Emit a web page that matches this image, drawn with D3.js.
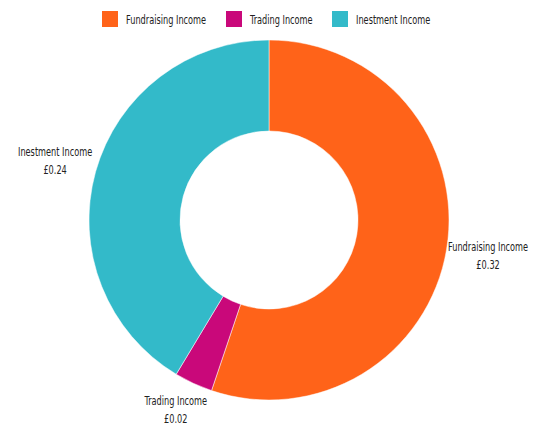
<!DOCTYPE html>
<html><head><meta charset="utf-8">
<script src="https://cdn.jsdelivr.net/npm/d3@7"></script>
<style>body{margin:0;background:#fff}</style>
</head><body>
<svg id="c" width="538" height="427"></svg>
<script>
const categories = ["Fundraising Income", "Trading Income", "Inestment Income"];
const values = [0.32, 0.02, 0.24];
const colors = ["#FF6319", "#C9087A", "#33BAC9"];

const W = 538, H = 427;
const svg = d3.select("#c");
const font = "'DejaVu Sans Condensed','DejaVu Sans',sans-serif";
const fontSize = "13px";
const squeeze = 0.7;
const cx = 269, cy = 220, R = 180, r = 89;
const g = svg.append("g").attr("transform", `translate(${cx},${cy})`);
const pie = d3.pie().sort(null).value(d => d.v);
const data = pie(categories.map((c, i) => ({c, v: values[i], col: colors[i]})));
const arc = d3.arc().innerRadius(r).outerRadius(R);
g.selectAll("path").data(data).join("path")
  .attr("d", arc).attr("fill", d => d.data.col)
  .attr("stroke", "#fff").attr("stroke-width", 0.5);

const labelArc = d3.arc().innerRadius(222).outerRadius(222);
const lab = g.selectAll("g.lab").data(data).join("g").attr("class", "lab")
  .attr("transform", d => {
    let [x, y] = labelArc.centroid(d);
    y = Math.min(y, H - cy - 17);   // keep both lines inside the canvas
    return `translate(${x},${y}) scale(${squeeze},1)`;
  });
lab.append("text").attr("text-anchor", "middle").attr("y", -5)
  .style("font-family", font).style("font-size", fontSize).attr("fill", "#222")
  .text(d => d.data.c);
lab.append("text").attr("text-anchor", "middle").attr("y", 13)
  .style("font-family", font).style("font-size", fontSize).attr("fill", "#222")
  .text(d => "£" + d.data.v.toFixed(2));

// legend
const legX = [102, 226, 332];
const leg = svg.selectAll("g.leg").data(categories).join("g").attr("class", "leg")
  .attr("transform", (d, i) => `translate(${legX[i]},11)`);
leg.append("rect").attr("width", 16).attr("height", 16).attr("fill", (d, i) => colors[i]);
leg.append("g").attr("transform", `translate(24,12.5) scale(${squeeze},1)`)
  .append("text")
  .style("font-family", font).style("font-size", fontSize).attr("fill", "#222")
  .text(d => d);
</script>
</body></html>
